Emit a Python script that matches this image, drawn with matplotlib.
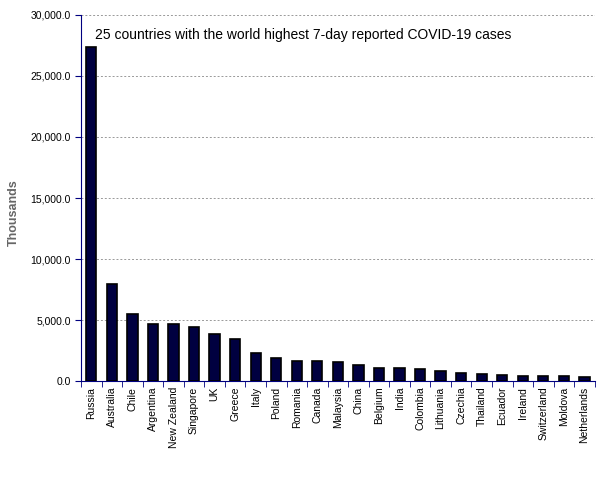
import matplotlib.pyplot as plt
import numpy as np

plt.rcParams['font.family'] = ['Liberation Sans', 'DejaVu Sans']

countries = ['Russia', 'Australia', 'Chile', 'Argentina', 'New Zealand', 'Singapore',
             'UK', 'Greece', 'Italy', 'Poland', 'Romania', 'Canada', 'Malaysia', 'China',
             'Belgium', 'India', 'Colombia', 'Lithuania', 'Czechia', 'Thailand', 'Ecuador',
             'Ireland', 'Switzerland', 'Moldova', 'Netherlands']
cases = [27400, 7950, 5500, 4700, 4700, 4430, 3850, 3440, 2300, 1880, 1640, 1640,
         1550, 1300, 1060, 1060, 980, 820, 650, 600, 500, 420, 420, 400, 330]

fig = plt.figure(figsize=(6.05, 4.8), dpi=100)
ax = fig.add_axes([0.134, 0.206, 0.849, 0.763])

x = np.arange(len(countries))
ax.bar(x, cases, width=0.5, color='#000040', edgecolor='black', linewidth=1.2, zorder=3)

ax.set_xlim(-0.5, len(countries) - 0.5)
ax.set_ylim(0, 30000)
ax.set_yticks(np.arange(0, 30001, 5000))
ax.set_yticklabels([f'{v:,.1f}' for v in np.arange(0, 30001, 5000)], fontsize=7.5)
ax.yaxis.grid(True, linestyle=(0, (2, 2)), color='#999999', linewidth=0.7, zorder=0)

ax.set_xticks(x)
ax.set_xticklabels(countries, rotation=90, fontsize=7.5)
ax.tick_params(axis='x', which='major', length=0, pad=4)
ax.set_xticks(np.arange(-0.5, len(countries)), minor=True)
ax.tick_params(axis='x', which='minor', length=4, color='#000080', direction='out')
ax.tick_params(axis='y', length=4, color='#000080')

for side in ['top', 'right']:
    ax.spines[side].set_visible(False)
for side in ['left', 'bottom']:
    ax.spines[side].set_color('#000080')

fig.text(0.023, 0.556, 'Thousands', rotation=90, fontsize=9, fontweight='bold',
         color='#666666', ha='center', va='center')
ax.text(0.028, 0.965, '25 countries with the world highest 7-day reported COVID-19 cases',
        transform=ax.transAxes, fontsize=10, va='top', ha='left')

fig.savefig('out.png', dpi=100)
